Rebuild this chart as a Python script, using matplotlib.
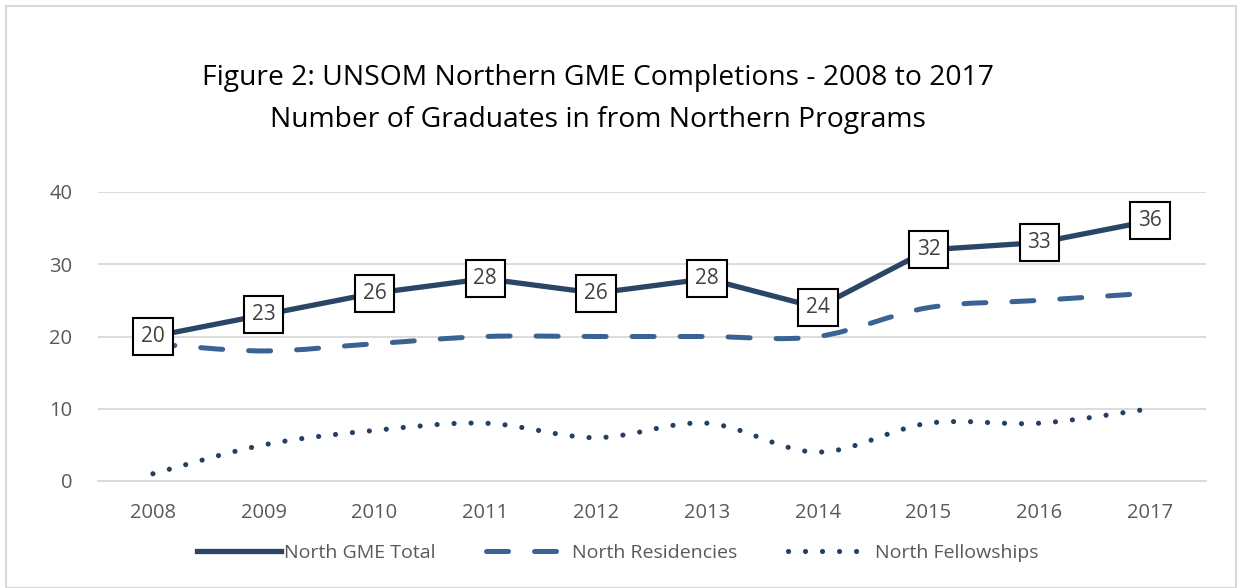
import matplotlib
matplotlib.use("Agg")
import matplotlib.pyplot as plt
from matplotlib.path import Path
from matplotlib.patches import PathPatch, Rectangle
from matplotlib.lines import Line2D
import numpy as np

years = ["2008", "2009", "2010", "2011", "2012", "2013", "2014", "2015", "2016", "2017"]
total = [20, 23, 26, 28, 26, 28, 24, 32, 33, 36]
residencies = [19, 18, 19, 20, 20, 20, 20, 24, 25, 26]
fellowships = [1, 5, 7, 8, 6, 8, 4, 8, 8, 10]
yticks = [0, 10, 20, 30, 40]

plt.rcParams['font.family'] = ['Open Sans', 'DejaVu Sans']

c_total = '#2B4566'
c_res = '#3A6394'
c_fel = '#253F62'

fig = plt.figure(figsize=(12.43, 5.88), dpi=100)
fig.patches.append(Rectangle((6/1243, 0), 1230/1243, 1 - 6/588, transform=fig.transFigure,
                             fill=False, edgecolor='#D9D9D9', linewidth=1.5))
ax = fig.add_axes([97.5/1243, 1 - 481/588, 1108/1243, 289/588])
x = np.arange(len(years))
ax.set_xlim(-0.5, len(years) - 0.5)
ax.set_ylim(0, 40)


def smooth_path(xs, ys):
    pts = list(zip(xs, ys))
    verts = [pts[0]]
    codes = [Path.MOVETO]
    n = len(pts)
    for i in range(n - 1):
        p0 = pts[i - 1] if i > 0 else pts[i]
        p1 = pts[i]
        p2 = pts[i + 1]
        p3 = pts[i + 2] if i + 2 < n else pts[i + 1]
        c1 = (p1[0] + (p2[0] - p0[0]) / 6, p1[1] + (p2[1] - p0[1]) / 6)
        c2 = (p2[0] - (p3[0] - p1[0]) / 6, p2[1] - (p3[1] - p1[1]) / 6)
        verts += [c1, c2, p2]
        codes += [Path.CURVE4] * 3
    return Path(verts, codes)


ax.yaxis.grid(True, color='#D9D9D9', linewidth=1.3)
ax.set_axisbelow(True)
for s in ax.spines.values():
    s.set_visible(False)
ax.spines['bottom'].set_visible(True)
ax.spines['bottom'].set_color('#D9D9D9')
ax.spines['bottom'].set_linewidth(1.3)
ax.tick_params(length=0, labelsize=14.5, labelcolor='#595959')
ax.tick_params(axis='x', pad=16)
ax.tick_params(axis='y', pad=18)
ax.set_xticks(x)
ax.set_xticklabels(years)
ax.set_yticks(yticks)

dots = (0, (0.01, 3.3))
dashes = (0, (4.4, 5.2))
# Fellowships (dotted, smoothed)
ax.add_patch(PathPatch(smooth_path(x, fellowships), fill=False, edgecolor=c_fel,
                       linewidth=3.7, linestyle=dots, capstyle='round'))
# Residencies (dashed, smoothed)
ax.add_patch(PathPatch(smooth_path(x, residencies), fill=False, edgecolor=c_res,
                       linewidth=3.6, linestyle=dashes, capstyle='round'))
# Total
ax.plot(x, total, color=c_total, linewidth=3.8, solid_capstyle='round', zorder=3)
for xi, v in zip(x, total):
    ax.text(xi, v, str(v), ha='center', va='center', fontsize=15, color='#404040', zorder=5,
            bbox=dict(boxstyle='square,pad=0.38', facecolor='white', edgecolor='black', linewidth=1.5))

fig.text(0.481, 1 - 78/588, "Figure 2: UNSOM Northern GME Completions - 2008 to 2017",
         ha='center', va='center', fontsize=20.3, color='black')
fig.text(0.481, 1 - 120/588, "Number of Graduates in from Northern Programs",
         ha='center', va='center', fontsize=20.3, color='black')

handles = [
    Line2D([], [], color=c_total, linewidth=3.8),
    Line2D([], [], color=c_res, linewidth=3.6, linestyle=dashes, dash_capstyle='round'),
    Line2D([], [], color=c_fel, linewidth=3.7, linestyle=dots, dash_capstyle='round'),
]
labels = ["North GME Total", "North Residencies", "North Fellowships"]
fig.legend(handles, labels, loc='center', bbox_to_anchor=(0.497, 1 - 553/588), ncol=3,
           frameon=False, fontsize=14, labelcolor='#595959', handlelength=4.3,
           handletextpad=0.15, columnspacing=2.6)

fig.savefig("out.png", dpi=100)
